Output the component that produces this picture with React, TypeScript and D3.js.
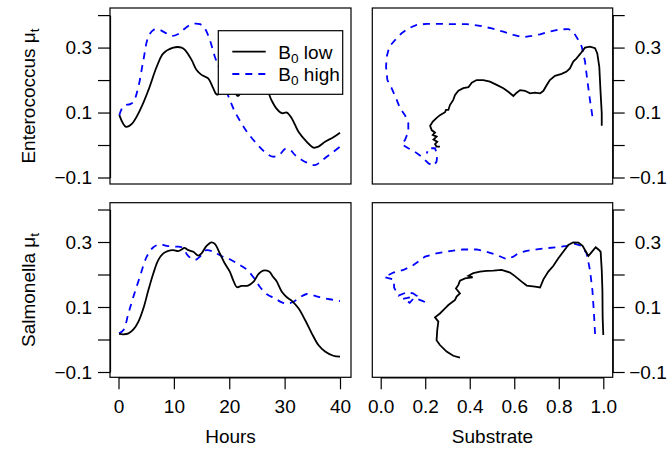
import { useEffect, useRef } from "react";
import * as d3 from "d3";

// Enterococcus vs hours
const entLowHours = [0.15, 1.35, 2.4, 3.9, 5.4, 6.9, 8.1, 9.9, 11.4, 12, 13.2, 14.1, 15, 16.2, 17.1, 17.7, 18.6, 19.5, 20.4, 21, 21.6, 22.5, 23.7, 24.6, 25.3, 26.1, 26.8, 27.6, 28.5, 29.5, 30.4, 31.3, 32.5, 34, 35.2, 36.1, 37.3, 38.8, 40];
const entLowMu = [0.092, 0.056, 0.065, 0.108, 0.169, 0.241, 0.282, 0.3, 0.3, 0.293, 0.262, 0.231, 0.216, 0.205, 0.175, 0.156, 0.159, 0.164, 0.169, 0.161, 0.151, 0.175, 0.195, 0.2, 0.185, 0.171, 0.169, 0.139, 0.113, 0.098, 0.1, 0.082, 0.041, 0.01, -0.008, -0.005, 0.01, 0.024, 0.038];
const entHighHours = [0.15, 0.9, 2.1, 2.7, 3.6, 4.5, 5.4, 6.3, 7.2, 8.4, 9.6, 10.8, 12, 13.2, 14.7, 15.6, 16.5, 17.4, 18.3, 19.2, 20.1, 21, 22.2, 23.4, 24.9, 26.4, 27.9, 29.1, 30.1, 31, 31.9, 33.1, 34.3, 35.5, 36.4, 37.6, 38.8, 40];
const entHighMu = [0.092, 0.12, 0.126, 0.133, 0.18, 0.262, 0.334, 0.354, 0.356, 0.346, 0.336, 0.342, 0.359, 0.372, 0.372, 0.359, 0.323, 0.272, 0.231, 0.18, 0.139, 0.103, 0.067, 0.036, 0.005, -0.021, -0.036, -0.029, -0.012, -0.015, -0.031, -0.046, -0.056, -0.062, -0.053, -0.036, -0.021, -0.005];

// Salmonella vs hours
const salLowHours = [0.1, 0.9, 1.8, 2.7, 3.6, 4.5, 5.4, 6.3, 7.2, 8.1, 9, 9.9, 10.8, 11.4, 11.9, 12.6, 13.5, 14.4, 15, 15.9, 16.8, 17.4, 18.3, 19.2, 20.1, 20.7, 21.4, 22.2, 23.4, 24.4, 25.3, 26.1, 27.2, 27.9, 28.5, 29.5, 30.4, 31.3, 32.5, 33.7, 34.9, 36.1, 37.3, 38.8, 40];
const salLowMu = [0.017, 0.016, 0.019, 0.031, 0.055, 0.096, 0.152, 0.204, 0.245, 0.265, 0.273, 0.275, 0.272, 0.277, 0.282, 0.275, 0.27, 0.258, 0.265, 0.288, 0.299, 0.294, 0.265, 0.234, 0.209, 0.183, 0.161, 0.165, 0.166, 0.178, 0.202, 0.212, 0.209, 0.193, 0.181, 0.147, 0.13, 0.119, 0.096, 0.06, 0.019, -0.017, -0.037, -0.05, -0.053];
const salHighHours = [0.1, 0.9, 1.8, 2.7, 3.9, 5.1, 6.3, 7.5, 8.7, 10.2, 11.4, 12.6, 13.8, 15, 15.9, 17.1, 18.6, 20.1, 21.6, 23.1, 24.4, 25.5, 26.8, 28.2, 29.5, 30.4, 31.6, 32.8, 34, 35.5, 37, 38.8, 40];
const salHighMu = [0.019, 0.029, 0.081, 0.132, 0.195, 0.255, 0.284, 0.293, 0.288, 0.286, 0.284, 0.257, 0.245, 0.26, 0.275, 0.27, 0.257, 0.247, 0.232, 0.216, 0.191, 0.163, 0.139, 0.127, 0.114, 0.111, 0.116, 0.13, 0.14, 0.134, 0.127, 0.122, 0.118];

// Enterococcus vs substrate
const entLowSub = [0.993, 0.993, 0.988, 0.982, 0.973, 0.963, 0.94, 0.918, 0.898, 0.88, 0.865, 0.85, 0.835, 0.813, 0.783, 0.76, 0.746, 0.731, 0.716, 0.693, 0.671, 0.648, 0.626, 0.611, 0.596, 0.573, 0.551, 0.521, 0.491, 0.461, 0.431, 0.409, 0.394, 0.371, 0.349, 0.334, 0.326, 0.311, 0.304, 0.293, 0.289, 0.266, 0.249, 0.234, 0.222, 0.229, 0.244, 0.234, 0.251, 0.237, 0.254, 0.244, 0.251, 0.266];
const entLowSubMu = [0.059, 0.098, 0.159, 0.241, 0.282, 0.298, 0.303, 0.3, 0.282, 0.267, 0.257, 0.236, 0.226, 0.219, 0.213, 0.2, 0.185, 0.167, 0.159, 0.161, 0.159, 0.167, 0.169, 0.161, 0.151, 0.164, 0.175, 0.185, 0.195, 0.2, 0.2, 0.192, 0.178, 0.175, 0.167, 0.154, 0.139, 0.123, 0.108, 0.108, 0.101, 0.092, 0.082, 0.072, 0.059, 0.046, 0.038, 0.031, 0.026, 0.017, 0.01, 0.003, -0.005, -0.005];
const entHighSub = [0.951, 0.94, 0.928, 0.918, 0.903, 0.888, 0.865, 0.843, 0.805, 0.76, 0.716, 0.678, 0.641, 0.596, 0.551, 0.499, 0.446, 0.386, 0.326, 0.266, 0.207, 0.162, 0.124, 0.094, 0.064, 0.039, 0.027, 0.024, 0.03, 0.049, 0.072, 0.087, 0.109, 0.124, 0.124, 0.109, 0.094, 0.124, 0.154, 0.184, 0.214, 0.237, 0.251, 0.254, 0.244, 0.214, 0.207];
const entHighSubMu = [0.089, 0.139, 0.2, 0.257, 0.303, 0.323, 0.349, 0.357, 0.356, 0.349, 0.341, 0.336, 0.332, 0.339, 0.349, 0.359, 0.367, 0.372, 0.372, 0.373, 0.373, 0.37, 0.359, 0.344, 0.323, 0.303, 0.272, 0.241, 0.2, 0.175, 0.139, 0.113, 0.092, 0.067, 0.041, 0.015, 0.003, -0.01, -0.021, -0.036, -0.056, -0.064, -0.051, -0.031, -0.01, -0.01, -0.026];

// Salmonella vs substrate
const salLowSub = [1.0, 0.997, 0.996, 0.993, 0.988, 0.978, 0.966, 0.955, 0.943, 0.933, 0.922, 0.907, 0.888, 0.865, 0.843, 0.82, 0.798, 0.775, 0.753, 0.731, 0.716, 0.693, 0.656, 0.633, 0.603, 0.581, 0.543, 0.506, 0.476, 0.446, 0.416, 0.394, 0.413, 0.379, 0.356, 0.349, 0.338, 0.356, 0.341, 0.334, 0.304, 0.289, 0.266, 0.244, 0.259, 0.254, 0.251, 0.266, 0.296, 0.326, 0.356];
const salLowSubMu = [0.014, 0.07, 0.152, 0.214, 0.27, 0.277, 0.284, 0.275, 0.265, 0.257, 0.27, 0.288, 0.298, 0.299, 0.291, 0.27, 0.25, 0.226, 0.209, 0.185, 0.16, 0.163, 0.166, 0.178, 0.195, 0.206, 0.214, 0.212, 0.211, 0.209, 0.204, 0.196, 0.191, 0.188, 0.181, 0.168, 0.157, 0.142, 0.132, 0.122, 0.106, 0.096, 0.08, 0.068, 0.055, 0.029, -0.002, -0.017, -0.037, -0.05, -0.056];
const salHighSub = [0.963, 0.958, 0.951, 0.94, 0.925, 0.903, 0.873, 0.835, 0.79, 0.746, 0.701, 0.656, 0.618, 0.596, 0.566, 0.521, 0.476, 0.431, 0.371, 0.311, 0.251, 0.199, 0.147, 0.102, 0.057, 0.016, 0.06, 0.06, 0.08, 0.12, 0.145, 0.16, 0.12, 0.1, 0.13, 0.15, 0.19, 0.2];
const salHighSubMu = [0.017, 0.081, 0.152, 0.214, 0.265, 0.288, 0.294, 0.288, 0.284, 0.281, 0.277, 0.273, 0.265, 0.255, 0.247, 0.26, 0.27, 0.277, 0.277, 0.272, 0.265, 0.255, 0.229, 0.214, 0.206, 0.192, 0.184, 0.16, 0.135, 0.146, 0.142, 0.135, 0.128, 0.125, 0.113, 0.128, 0.118, 0.115];

const yTicks = [-0.1, 0, 0.1, 0.2, 0.3, 0.4];
const yLabels = [-0.1, 0.1, 0.3];
const hourTicks = [0, 10, 20, 30, 40];
const subTicks = [0, 0.2, 0.4, 0.6, 0.8, 1.0];
const legendNames = ["low", "high"];

const FONT = "'Liberation Sans', Arial, Helvetica, sans-serif";
const FS = 19;

export default function App() {
  const svgRef = useRef<SVGSVGElement>(null);

  useEffect(() => {
    const svg = d3.select(svgRef.current);
    svg.selectAll("*").remove();

    const colLeft = [110, 351];
    const colRight = [372.3, 612.7];
    const rowTop = [8, 184];
    const rowBot = [202.7, 377.3];

    const xHours = d3.scaleLinear().domain([0, 40]).range([118.5, 340]);
    const xSub = d3.scaleLinear().domain([0, 1]).range([380.7, 603.3]);
    const yTop = d3.scaleLinear().domain([-0.1, 0.4]).range([177.5, 15.1]);
    const yBot = d3.scaleLinear().domain([-0.1, 0.4]).range([372, 209.5]);

    const fmtY = (d: number) => (yLabels.some(v => Math.abs(v - d) < 1e-9) ? d3.format(".1f")(d).replace("-", "\u2212") : "");

    const styleAxis = (g: any) => {
      g.attr("font-family", FONT).attr("font-size", FS);
      g.selectAll("line").attr("stroke", "#000").attr("stroke-width", 1.2);
      g.selectAll("path").attr("stroke", "#000").attr("stroke-width", 1.2);
      g.selectAll("text").attr("fill", "#000");
    };

    const panels = [
      { xs: xHours, ys: yTop, col: colLeft, row: rowTop, side: "left", bottom: false,
        low: [entLowHours, entLowMu], high: [entHighHours, entHighMu], curve: d3.curveCatmullRom },
      { xs: xSub, ys: yTop, col: colRight, row: rowTop, side: "right", bottom: false,
        low: [entLowSub, entLowSubMu], high: [entHighSub, entHighSubMu], curve: d3.curveLinear },
      { xs: xHours, ys: yBot, col: colLeft, row: rowBot, side: "left", bottom: true,
        low: [salLowHours, salLowMu], high: [salHighHours, salHighMu], curve: d3.curveCatmullRom },
      { xs: xSub, ys: yBot, col: colRight, row: rowBot, side: "right", bottom: true,
        low: [salLowSub, salLowSubMu], high: [salHighSub, salHighSubMu], curve: d3.curveLinear },
    ];

    panels.forEach(p => {
      const clipId = `clip-${p.col[0]}-${p.row[0]}`.replace(/\./g, "_");
      svg.append("clipPath").attr("id", clipId)
        .append("rect")
        .attr("x", p.col[0]).attr("y", p.row[0])
        .attr("width", p.col[1] - p.col[0]).attr("height", p.row[1] - p.row[0]);

      let series = p.high;
      const line = d3.line<number>()
        .x(i => p.xs(series[0][i]))
        .y(i => p.ys(series[1][i]))
        .curve(p.curve);
      svg.append("path")
        .attr("clip-path", `url(#${clipId})`)
        .attr("d", line(d3.range(series[0].length)))
        .attr("fill", "none")
        .attr("stroke", "#0000ff")
        .attr("stroke-width", 1.8)
        .attr("stroke-dasharray", "7,6");
      series = p.low;
      svg.append("path")
        .attr("clip-path", `url(#${clipId})`)
        .attr("d", line(d3.range(series[0].length)))
        .attr("fill", "none")
        .attr("stroke", "#000")
        .attr("stroke-width", 1.8);

      svg.append("rect")
        .attr("x", p.col[0]).attr("y", p.row[0])
        .attr("width", p.col[1] - p.col[0]).attr("height", p.row[1] - p.row[0])
        .attr("fill", "none").attr("stroke", "#000").attr("stroke-width", 1.2);

      if (p.side === "left") {
        svg.append("g")
          .attr("transform", `translate(${p.col[0]},0)`)
          .call(d3.axisLeft(p.ys).tickValues(yTicks).tickSize(12).tickSizeOuter(0).tickPadding(6).tickFormat(fmtY as any))
          .call(styleAxis);
      } else {
        // right-hand labels are centred in the margin, as in the original
        svg.append("g")
          .attr("transform", `translate(${p.col[1]},0)`)
          .call(d3.axisRight(p.ys).tickValues(yTicks).tickSize(12).tickSizeOuter(0).tickPadding(23.3).tickFormat(fmtY as any))
          .call(styleAxis)
          .selectAll("text").attr("text-anchor", "middle");
      }

      if (p.bottom) {
        const ticks = p.xs === xHours ? hourTicks : subTicks;
        const fmt = p.xs === xHours ? d3.format("d") : d3.format(".1f");
        svg.append("g")
          .attr("transform", `translate(0,${p.row[1]})`)
          .call(d3.axisBottom(p.xs).tickValues(ticks).tickSize(12).tickSizeOuter(0).tickPadding(10.5).tickFormat(fmt as any))
          .call(styleAxis);
      }
    });

    // y axis titles
    const titles = [
      { name: "Enterococcus ", cy: (rowTop[0] + rowTop[1]) / 2 },
      { name: "Salmonella ", cy: (rowBot[0] + rowBot[1]) / 2 },
    ];
    titles.forEach(t => {
      const tx = svg.append("text")
        .attr("transform", `translate(35,${t.cy}) rotate(-90)`)
        .attr("text-anchor", "middle")
        .attr("font-family", FONT)
        .attr("font-size", FS);
      tx.append("tspan").text(t.name + "\u03bc");
      tx.append("tspan").attr("font-size", FS * 0.72).attr("dy", 4).text("t");
    });

    // x axis titles
    [{ name: "Hours", cx: (colLeft[0] + colLeft[1]) / 2 }, { name: "Substrate", cx: (colRight[0] + colRight[1]) / 2 }]
      .forEach(t => {
        svg.append("text")
          .attr("x", t.cx).attr("y", 443)
          .attr("text-anchor", "middle")
          .attr("font-family", FONT)
          .attr("font-size", FS)
          .text(t.name);
      });

    // legend
    const legend = svg.append("g");
    legend.append("rect")
      .attr("x", 218.3).attr("y", 30.7).attr("width", 124.4).attr("height", 63.6)
      .attr("fill", "#fff").attr("stroke", "#000").attr("stroke-width", 1.2);
    const items = legend.selectAll("g.item")
      .data(legendNames)
      .join("g")
      .attr("class", "item")
      .attr("transform", (_d, i) => `translate(0,${51.7 + i * 22.3})`);
    items.append("line")
      .attr("x1", 232.3).attr("x2", 265.7).attr("y1", 0).attr("y2", 0)
      .attr("stroke", (_d, i) => (i === 0 ? "#000" : "#0000ff"))
      .attr("stroke-width", 1.8)
      .attr("stroke-dasharray", (_d, i) => (i === 0 ? null : "7,6"));
    const lt = items.append("text")
      .attr("x", 278.3).attr("y", 0).attr("dy", "0.36em")
      .attr("font-family", FONT).attr("font-size", FS);
    lt.append("tspan").text("B");
    lt.append("tspan").attr("font-size", FS * 0.72).attr("dy", 4).text("0");
    lt.append("tspan").attr("dy", -4).text(d => " " + d);
  }, []);

  return (
    <svg ref={svgRef} width={667} height={450}
      style={{ position: "absolute", left: 0, top: 0, background: "#fff" }} />
  );
}
